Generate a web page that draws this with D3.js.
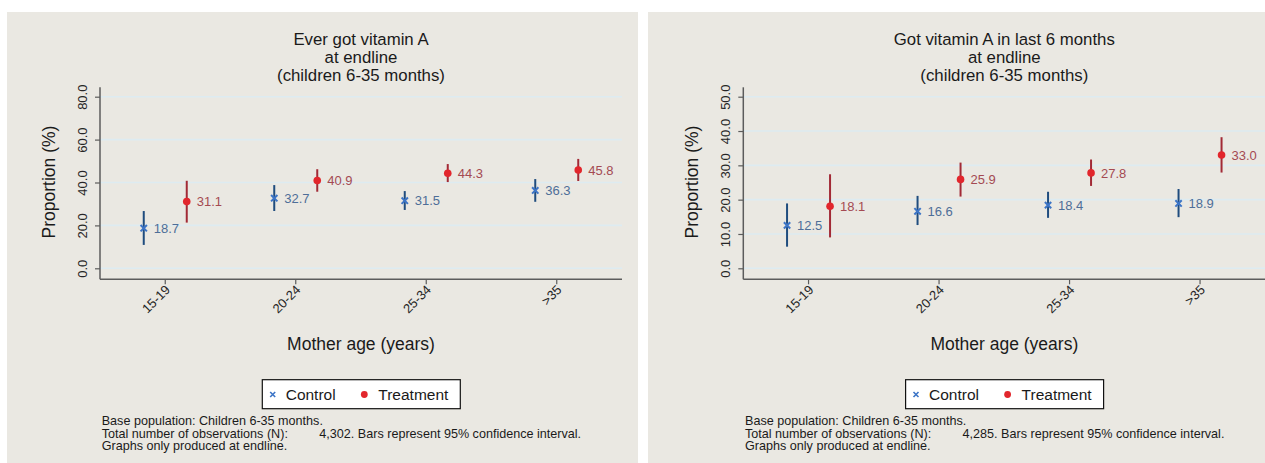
<!DOCTYPE html>
<html>
<head>
<meta charset="utf-8">
<script src="https://cdn.jsdelivr.net/npm/d3@7"></script>
<style>
  html, body { margin: 0; padding: 0; background: #ffffff; }
  svg { display: block; font-family: "Liberation Sans", Arial, sans-serif; }
</style>
</head>
<body>
<svg id="chart" width="1265" height="463"></svg>
<script>
// Mother age groups (x axis)
const categories = ["15-19", "20-24", "25-34", ">35"];

// Ever got vitamin A, point estimates and 95% CI bounds (%)
const everControl = [18.7, 32.7, 31.5, 36.3];
const everControlLow = [10.9, 26.7, 27.2, 31.0];
const everControlHigh = [26.7, 38.8, 36.0, 41.6];
const everTreatment = [31.1, 40.9, 44.3, 45.8];
const everTreatmentLow = [21.3, 35.7, 40.2, 40.7];
const everTreatmentHigh = [40.8, 46.2, 48.6, 51.0];
const everTicks = [0, 20, 40, 60, 80];
const everTitle = ["Ever got vitamin A", "at endline", "(children 6-35 months)"];
const everN = "4,302";

// Got vitamin A in last 6 months (%)
const recentControl = [12.5, 16.6, 18.4, 18.9];
const recentControlLow = [6.3, 12.6, 14.7, 14.9];
const recentControlHigh = [18.9, 21.1, 22.3, 23.1];
const recentTreatment = [18.1, 25.9, 27.8, 33.0];
const recentTreatmentLow = [9.0, 20.9, 24.0, 27.9];
const recentTreatmentHigh = [27.4, 30.8, 31.7, 38.2];
const recentTicks = [0, 10, 20, 30, 40, 50];
const recentTitle = ["Got vitamin A in last 6 months", "at endline", "(children 6-35 months)"];
const recentN = "4,285";

const seriesNames = ["Control", "Treatment"];

// ---- styling ----
const panelBg = "#EAE8E2";
const gridColor = "#DDEBF1";
const axisColor = "#5C5C5C";
const textColor = "#1A1A1A";
const ctrlMarker = "#3C74C6";
const ctrlLine = "#1F4C7E";
const ctrlText = "#4E6E98";
const trtMarker = "#E2262C";
const trtLine = "#A22A36";
const trtText = "#A44A52";

const svg = d3.select("#chart");

const panels = [
  {
    dx: 0, bg: [7, 638], title: everTitle, ticks: everTicks, n: everN,
    control: everControl, controlLow: everControlLow, controlHigh: everControlHigh,
    treatment: everTreatment, treatmentLow: everTreatmentLow, treatmentHigh: everTreatmentHigh
  },
  {
    dx: 643.3, bg: [648, 1265], title: recentTitle, ticks: recentTicks, n: recentN,
    control: recentControl, controlLow: recentControlLow, controlHigh: recentControlHigh,
    treatment: recentTreatment, treatmentLow: recentTreatmentLow, treatmentHigh: recentTreatmentHigh
  }
];

// plot region inside each panel (panel-local coordinates)
const plotL = 100, plotR = 622;
const plotTop = 87.3, plotBottom = 279.3;
const zeroY = 268.3, topTickY = 96.7;
const groupOffset = 21.5;

panels.forEach(p => {
  svg.append("rect")
    .attr("x", p.bg[0]).attr("y", 12)
    .attr("width", p.bg[1] - p.bg[0]).attr("height", 463 - 12)
    .attr("fill", panelBg);

  const g = svg.append("g").attr("transform", `translate(${p.dx},0)`);
  const cx = (plotL + plotR) / 2;

  const x = d3.scaleBand().domain(categories).range([plotL, plotR]).padding(0);
  const y = d3.scaleLinear().domain([0, d3.max(p.ticks)]).range([zeroY, topTickY]);
  const xc = c => x(c) + x.bandwidth() / 2;

  // title
  const title = g.append("text")
    .attr("text-anchor", "middle")
    .attr("fill", textColor)
    .style("font-size", "16.8px");
  p.title.forEach((line, i) => {
    title.append("tspan").attr("x", cx).attr("y", 45.3 + i * 17.7).text(line);
  });

  // gridlines
  g.append("g").selectAll("line").data(p.ticks).join("line")
    .attr("x1", plotL).attr("x2", plotR)
    .attr("y1", d => y(d)).attr("y2", d => y(d))
    .attr("stroke", gridColor).attr("stroke-width", 1.6);

  // y axis
  const yAxis = g.append("g").attr("transform", `translate(${plotL},0)`)
    .call(d3.axisLeft(y).tickValues(p.ticks).tickFormat(d3.format(".1f")).tickSize(5));
  yAxis.select(".domain").remove();
  yAxis.selectAll(".tick line").attr("stroke", axisColor).attr("stroke-width", 1.2);
  yAxis.selectAll(".tick text")
    .attr("x", null).attr("dy", null)
    .attr("text-anchor", "middle")
    .attr("transform", "translate(-13,0) rotate(-90)")
    .attr("fill", "#262626")
    .style("font-size", "13px")
    .style("font-family", "\"Liberation Sans\", Arial, sans-serif");
  g.append("line")
    .attr("x1", plotL).attr("x2", plotL).attr("y1", plotTop).attr("y2", plotBottom)
    .attr("stroke", axisColor).attr("stroke-width", 1.5);

  // x axis
  const xAxis = g.append("g").attr("transform", `translate(0,${plotBottom})`)
    .call(d3.axisBottom(x).tickSize(5));
  xAxis.select(".domain").remove();
  xAxis.selectAll(".tick line").attr("stroke", axisColor).attr("stroke-width", 1.2);
  xAxis.selectAll(".tick text")
    .attr("y", null).attr("dy", "0.35em")
    .attr("text-anchor", "end")
    .attr("transform", "translate(2.5,8) rotate(-45)")
    .attr("fill", "#262626")
    .style("font-size", "13px")
    .style("font-family", "\"Liberation Sans\", Arial, sans-serif");
  g.append("line")
    .attr("x1", plotL).attr("x2", plotR).attr("y1", plotBottom).attr("y2", plotBottom)
    .attr("stroke", axisColor).attr("stroke-width", 1.5);

  // axis titles
  g.append("text")
    .attr("transform", `translate(54.7,182) rotate(-90)`)
    .attr("text-anchor", "middle").attr("fill", textColor)
    .style("font-size", "17.5px")
    .text("Proportion (%)");
  g.append("text")
    .attr("x", cx).attr("y", 350)
    .attr("text-anchor", "middle").attr("fill", textColor)
    .style("font-size", "17.5px")
    .text("Mother age (years)");

  // confidence intervals
  const rows = categories.map((c, i) => ({
    c,
    ctrl: p.control[i], ctrlLo: p.controlLow[i], ctrlHi: p.controlHigh[i],
    trt: p.treatment[i], trtLo: p.treatmentLow[i], trtHi: p.treatmentHigh[i]
  }));

  const marks = g.append("g");
  marks.selectAll(".ci-ctrl").data(rows).join("line")
    .attr("x1", d => xc(d.c) - groupOffset).attr("x2", d => xc(d.c) - groupOffset)
    .attr("y1", d => y(d.ctrlLo)).attr("y2", d => y(d.ctrlHi))
    .attr("stroke", ctrlLine).attr("stroke-width", 2);
  marks.selectAll(".ci-trt").data(rows).join("line")
    .attr("x1", d => xc(d.c) + groupOffset).attr("x2", d => xc(d.c) + groupOffset)
    .attr("y1", d => y(d.trtLo)).attr("y2", d => y(d.trtHi))
    .attr("stroke", trtLine).attr("stroke-width", 2);

  // control markers: small crosses
  const cross = d3.symbol().type(d3.symbolX).size(28);
  marks.selectAll(".pt-ctrl").data(rows).join("path")
    .attr("d", cross)
    .attr("transform", d => `translate(${xc(d.c) - groupOffset},${y(d.ctrl)})`)
    .attr("fill", "none").attr("stroke", ctrlMarker).attr("stroke-width", 2);
  // treatment markers: filled dots
  marks.selectAll(".pt-trt").data(rows).join("circle")
    .attr("cx", d => xc(d.c) + groupOffset).attr("cy", d => y(d.trt))
    .attr("r", 3.8).attr("fill", trtMarker);

  // value labels
  const fmt = d3.format(".1f");
  marks.selectAll(".lb-ctrl").data(rows).join("text")
    .attr("x", d => xc(d.c) - groupOffset + 10).attr("y", d => y(d.ctrl))
    .attr("dy", "0.36em").attr("fill", ctrlText)
    .style("font-size", "13px")
    .text(d => fmt(d.ctrl));
  marks.selectAll(".lb-trt").data(rows).join("text")
    .attr("x", d => xc(d.c) + groupOffset + 10).attr("y", d => y(d.trt))
    .attr("dy", "0.36em").attr("fill", trtText)
    .style("font-size", "13px")
    .text(d => fmt(d.trt));

  // legend
  const lg = g.append("g");
  lg.append("rect")
    .attr("x", 262.3).attr("y", 379.7).attr("width", 198).attr("height", 29)
    .attr("fill", "#ffffff").attr("stroke", "#111111").attr("stroke-width", 1.2);
  lg.append("path")
    .attr("d", d3.symbol().type(d3.symbolX).size(18))
    .attr("transform", "translate(272.7,394.5)")
    .attr("fill", "none").attr("stroke", ctrlMarker).attr("stroke-width", 1.6);
  lg.append("text").attr("x", 285.7).attr("y", 399.8)
    .attr("fill", textColor).style("font-size", "15.5px").text(seriesNames[0]);
  lg.append("circle").attr("cx", 364.3).attr("cy", 394.5).attr("r", 3.4).attr("fill", trtMarker);
  lg.append("text").attr("x", 378.3).attr("y", 399.8)
    .attr("fill", textColor).style("font-size", "15.5px").text(seriesNames[1]);

  // notes
  const notes = g.append("g").attr("fill", textColor).style("font-size", "12.6px");
  notes.append("text").attr("x", 101.7).attr("y", 424.7)
    .text("Base population: Children 6-35 months.");
  notes.append("text").attr("x", 101.7).attr("y", 437.6)
    .text("Total number of observations (N):");
  notes.append("text").attr("x", 319.3).attr("y", 437.6)
    .text(`${p.n}. Bars represent 95% confidence interval.`);
  notes.append("text").attr("x", 101.7).attr("y", 450.3)
    .text("Graphs only produced at endline.");
});
</script>
</body>
</html>
